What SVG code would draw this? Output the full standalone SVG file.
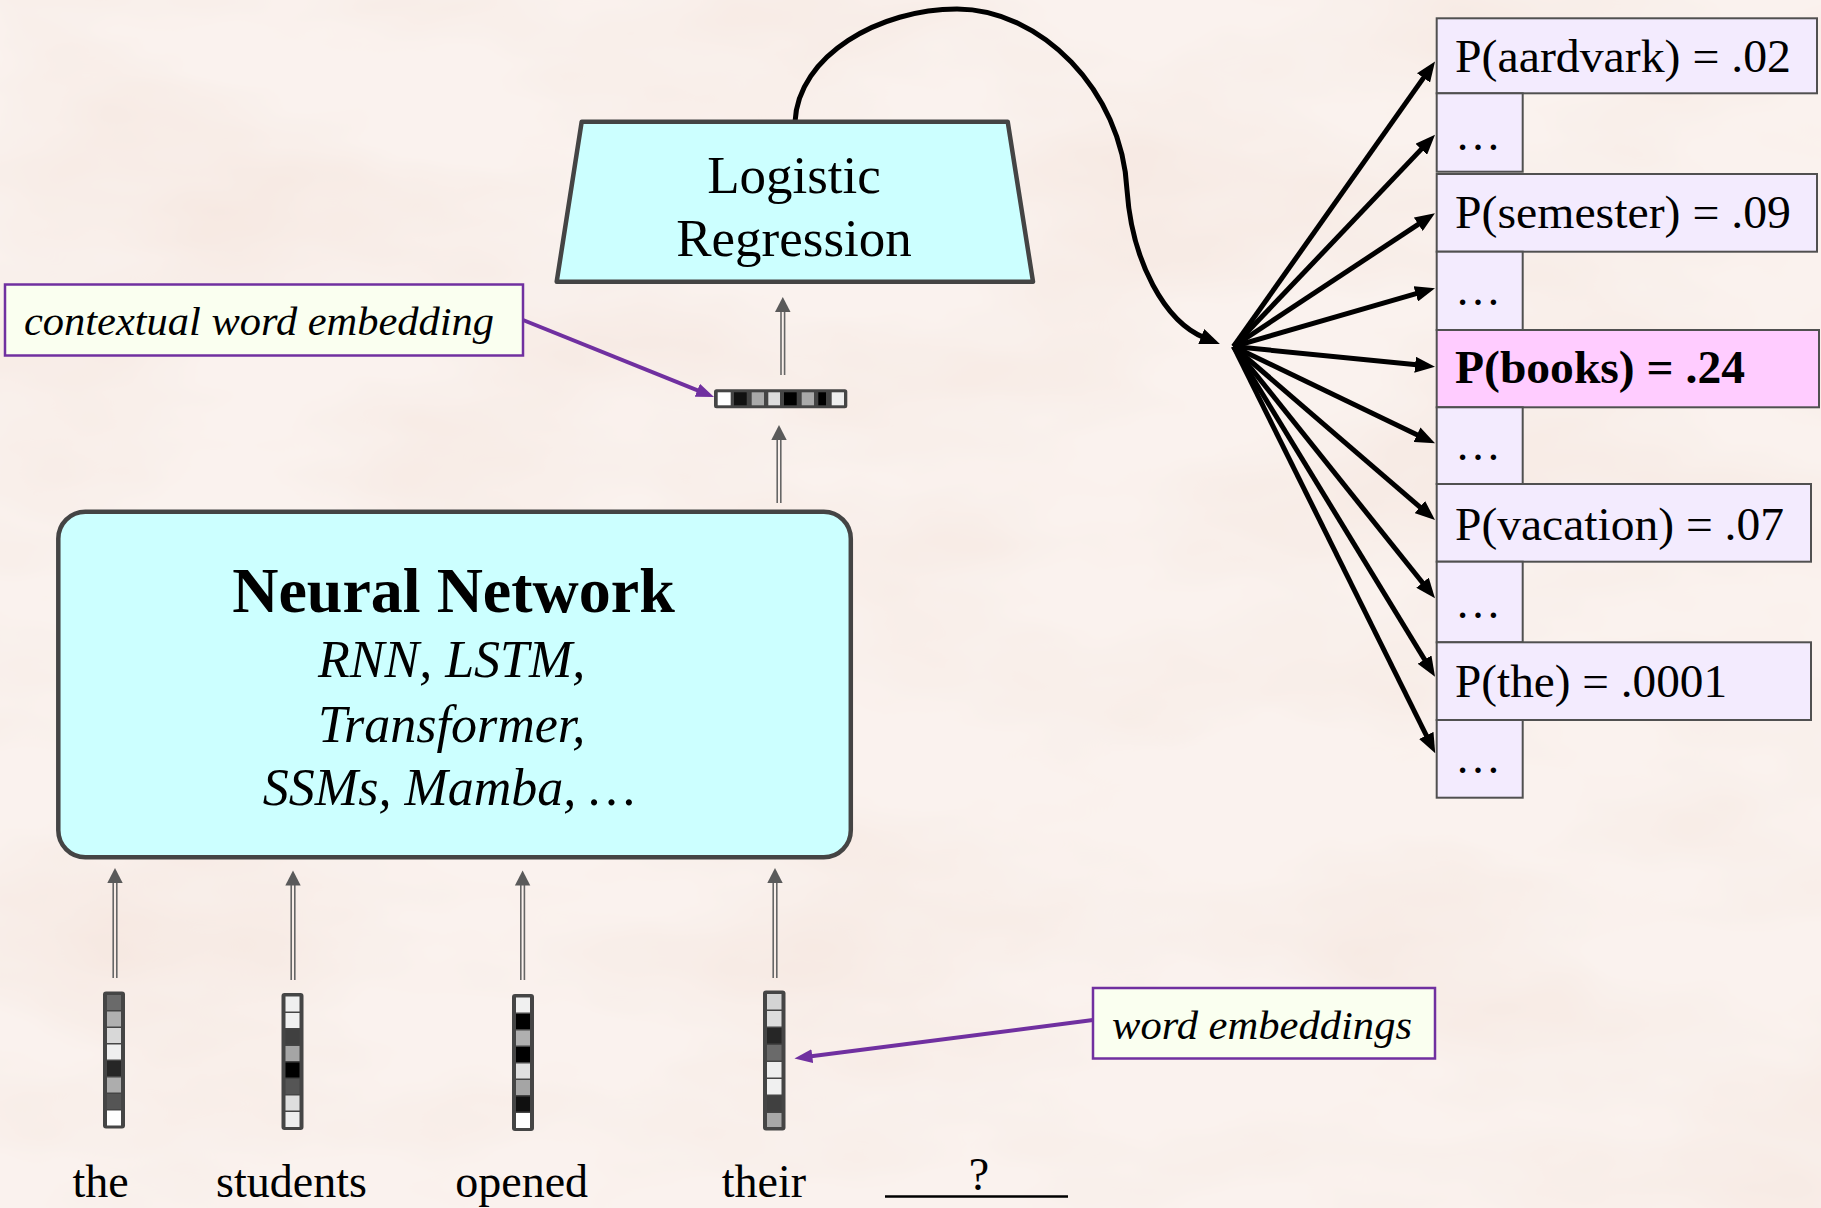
<svg xmlns="http://www.w3.org/2000/svg" width="1821" height="1208" viewBox="0 0 1821 1208">
<style>
  .serif { font-family: "Liberation Serif", "Times New Roman", serif; fill: #000; }
  .lr { font-size: 53px; text-anchor: middle; }
  .nnt { font-size: 64px; font-weight: bold; text-anchor: middle; }
  .nni { font-size: 52px; font-style: italic; text-anchor: middle; }
  .word { font-size: 46px; text-anchor: middle; }
  .lbl { font-size: 39px; font-style: italic; }
  .prob { font-size: 46px; }
  .pbox { fill: #F3EBFE; stroke: #505050; stroke-width: 2; }
  .pbold { fill: #FFCCFF; stroke: #505050; stroke-width: 2; }
  .call { fill: #FAFFF0; stroke: #7030A0; stroke-width: 2.5; }
  .shape { fill: #CCFFFF; stroke: #444; stroke-width: 4.5; stroke-linejoin: round; }
  .frame { fill: #454545; }
  .fan { stroke: #000; stroke-width: 5; fill: none; marker-end: url(#ah); }
  .purp { stroke: #7030A0; stroke-width: 4; fill: none; marker-end: url(#ahp); }
  .dl { stroke: #666; stroke-width: 1.6; }
  .dh { fill: #5a5a5a; }
</style>
<defs>
  <marker id="ah" viewBox="0 0 20 16" refX="4" refY="8" markerWidth="20" markerHeight="16" markerUnits="userSpaceOnUse" orient="auto">
    <path d="M0,0 L20,8 L0,16 z" fill="#000"/>
  </marker>
  <marker id="ahp" viewBox="0 0 18 14" refX="3" refY="7" markerWidth="18" markerHeight="14" markerUnits="userSpaceOnUse" orient="auto">
    <path d="M0,0 L18,7 L0,14 z" fill="#7030A0"/>
  </marker>
  <filter id="paper" x="0" y="0" width="1" height="1">
    <feTurbulence type="fractalNoise" baseFrequency="0.003 0.007" numOctaves="4" seed="3" result="n"/>
    <feColorMatrix in="n" type="matrix" values="0 0 0 0 0.91  0 0 0 0 0.78  0 0 0 0 0.72  1.3 0 0 0 -0.5"/>
  </filter>
</defs>

<rect x="0" y="0" width="1821" height="1208" fill="#FAF2EE"/>
<rect x="0" y="0" width="1821" height="1208" filter="url(#paper)"/>

<g id="connectors">
  <!-- curve from logistic regression to fan -->
  <path d="M795,122 C798,55 880,9 957,9 C1040,9 1122,90 1127,190 C1132,262 1165,322 1205,338" stroke="#000" stroke-width="5" fill="none" marker-end="url(#ah)"/>
  <!-- fan -->
  <line class="fan" x1="1233.5" y1="346.5" x2="1425.8" y2="74.6"/>
  <line class="fan" x1="1233.5" y1="346.5" x2="1424.0" y2="146.4"/>
  <line class="fan" x1="1233.5" y1="346.5" x2="1421.6" y2="222.1"/>
  <line class="fan" x1="1233.5" y1="346.5" x2="1419.6" y2="292.7"/>
  <line class="fan" x1="1233.5" y1="346.5" x2="1419.1" y2="365.1"/>
  <line class="fan" x1="1233.5" y1="346.5" x2="1420.6" y2="436.4"/>
  <line class="fan" x1="1233.5" y1="346.5" x2="1422.9" y2="509.6"/>
  <line class="fan" x1="1233.5" y1="346.5" x2="1425.0" y2="585.8"/>
  <line class="fan" x1="1233.5" y1="346.5" x2="1426.7" y2="663.0"/>
  <line class="fan" x1="1233.5" y1="346.5" x2="1428.1" y2="739.0"/>
  <!-- purple callout arrows -->
  <line class="purp" x1="523" y1="320" x2="700.1" y2="391.4"/>
  <line class="purp" x1="1093" y1="1020" x2="809.3" y2="1056.5"/>
  <!-- gray double arrows -->
  <g>
    <line class="dl" x1="781" y1="310" x2="781" y2="375"/>
    <line class="dl" x1="784.6" y1="310" x2="784.6" y2="375"/>
    <path class="dh" d="M782.8,297 L790.5,312 L775,312 z"/>
  </g>
  <g>
    <line class="dl" x1="777.2" y1="438" x2="777.2" y2="503"/>
    <line class="dl" x1="780.8" y1="438" x2="780.8" y2="503"/>
    <path class="dh" d="M779,425 L786.7,440 L771.3,440 z"/>
  </g>
  <g>
    <line class="dl" x1="113.2" y1="881" x2="113.2" y2="978"/>
    <line class="dl" x1="116.8" y1="881" x2="116.8" y2="978"/>
    <path class="dh" d="M115,868 L122.7,883 L107.3,883 z"/>
  </g>
  <g>
    <line class="dl" x1="291.2" y1="883" x2="291.2" y2="980"/>
    <line class="dl" x1="294.8" y1="883" x2="294.8" y2="980"/>
    <path class="dh" d="M293,870.5 L300.7,885.5 L285.3,885.5 z"/>
  </g>
  <g>
    <line class="dl" x1="520.8" y1="883" x2="520.8" y2="980"/>
    <line class="dl" x1="524.4" y1="883" x2="524.4" y2="980"/>
    <path class="dh" d="M522.6,870.5 L530.3,885.5 L514.9,885.5 z"/>
  </g>
  <g>
    <line class="dl" x1="773.2" y1="881" x2="773.2" y2="978"/>
    <line class="dl" x1="776.8" y1="881" x2="776.8" y2="978"/>
    <path class="dh" d="M775,868 L782.7,883 L767.3,883 z"/>
  </g>
</g>

<g id="logistic-regression">
  <polygon class="shape" points="581.7,121.7 1007.7,121.7 1033,281.7 556.7,281.7" stroke-width="5"/>
  <text class="serif lr" x="794" y="192.7">Logistic</text>
  <text class="serif lr" x="794" y="256">Regression</text>
</g>

<g id="neural-network">
  <rect class="shape" x="58.3" y="511.7" width="792.5" height="345.6" rx="27" ry="27"/>
  <text class="serif nnt" x="453.5" y="611.7">Neural Network</text>
  <text class="serif nni" x="451.7" y="676.7">RNN, LSTM,</text>
  <text class="serif nni" x="451.7" y="741.7">Transformer,</text>
  <text class="serif nni" x="449.2" y="805">SSMs, Mamba, …</text>
</g>

<g id="context-vector">
  <rect class="frame" x="714" y="389.3" width="133.3" height="19" rx="2.5"/>
  <rect x="717.7" y="392.3" width="13" height="13" fill="#ffffff"/>
  <rect x="734" y="392.3" width="12.7" height="13" fill="#111111"/>
  <rect x="751.7" y="392.3" width="12.3" height="13" fill="#aaaaaa"/>
  <rect x="768.3" y="392.3" width="11.7" height="13" fill="#dddddd"/>
  <rect x="784" y="392.3" width="12.7" height="13" fill="#000000"/>
  <rect x="801.7" y="392.3" width="12.3" height="13" fill="#aaaaaa"/>
  <rect x="818.3" y="392.3" width="7.7" height="13" fill="#000000"/>
  <rect x="831.7" y="392.3" width="12.3" height="13" fill="#eeeeee"/>
</g>

<g id="label-contextual">
  <rect class="call" x="5" y="284.5" width="518" height="71"/>
  <text class="serif lbl" x="24" y="335" textLength="470" lengthAdjust="spacingAndGlyphs">contextual word embedding</text>
</g>

<g id="label-word-embeddings">
  <rect class="call" x="1093" y="988" width="342" height="70.5"/>
  <text class="serif lbl" x="1112" y="1039" textLength="300" lengthAdjust="spacingAndGlyphs">word embeddings</text>
</g>

<g id="vec-the">
  <rect class="frame" x="103" y="991.5" width="22" height="137" rx="3"/>
  <rect x="107" y="995" width="14" height="15" fill="#6a6a6a"/>
  <rect x="107" y="1011.5" width="14" height="15" fill="#b0b0b0"/>
  <rect x="107" y="1028" width="14" height="15" fill="#d8d8d8"/>
  <rect x="107" y="1044.5" width="14" height="15" fill="#efefef"/>
  <rect x="107" y="1061" width="14" height="15" fill="#262626"/>
  <rect x="107" y="1077.5" width="14" height="15" fill="#adadad"/>
  <rect x="107" y="1094" width="14" height="15" fill="#555555"/>
  <rect x="107" y="1110.5" width="14" height="15" fill="#ffffff"/>
</g>
<g id="vec-students">
  <rect class="frame" x="281.5" y="993" width="22" height="137" rx="3"/>
  <rect x="285.5" y="996.5" width="14" height="15" fill="#efefef"/>
  <rect x="285.5" y="1013" width="14" height="15" fill="#f0f0f0"/>
  <rect x="285.5" y="1029.5" width="14" height="15" fill="#404040"/>
  <rect x="285.5" y="1046" width="14" height="15" fill="#a5a5a5"/>
  <rect x="285.5" y="1062.5" width="14" height="15" fill="#000000"/>
  <rect x="285.5" y="1079" width="14" height="15" fill="#555555"/>
  <rect x="285.5" y="1095.5" width="14" height="15" fill="#dedede"/>
  <rect x="285.5" y="1112" width="14" height="15" fill="#eeeeee"/>
</g>
<g id="vec-opened">
  <rect class="frame" x="512" y="994" width="22" height="137" rx="3"/>
  <rect x="516" y="997.5" width="14" height="15" fill="#f0f0f0"/>
  <rect x="516" y="1014" width="14" height="15" fill="#000000"/>
  <rect x="516" y="1030.5" width="14" height="15" fill="#b0b0b0"/>
  <rect x="516" y="1047" width="14" height="15" fill="#000000"/>
  <rect x="516" y="1063.5" width="14" height="15" fill="#e0e0e0"/>
  <rect x="516" y="1080" width="14" height="15" fill="#a5a5a5"/>
  <rect x="516" y="1096.5" width="14" height="15" fill="#101010"/>
  <rect x="516" y="1113" width="14" height="15" fill="#ffffff"/>
</g>
<g id="vec-their">
  <rect class="frame" x="763" y="990.5" width="22.5" height="140" rx="3"/>
  <rect x="767" y="994" width="14.5" height="15.5" fill="#d4d4d4"/>
  <rect x="767" y="1011" width="14.5" height="15.5" fill="#dddddd"/>
  <rect x="767" y="1028" width="14.5" height="15.5" fill="#262626"/>
  <rect x="767" y="1045" width="14.5" height="15.5" fill="#6a6a6a"/>
  <rect x="767" y="1062" width="14.5" height="15.5" fill="#eeeeee"/>
  <rect x="767" y="1079" width="14.5" height="15.5" fill="#f0f0f0"/>
  <rect x="767" y="1096" width="14.5" height="15.5" fill="#404040"/>
  <rect x="767" y="1113" width="14.5" height="14" fill="#a8a8a8"/>
</g>

<g id="words">
  <text class="serif word" x="100.5" y="1196.7">the</text>
  <text class="serif word" x="291.5" y="1196.7">students</text>
  <text class="serif word" x="521.7" y="1196.7">opened</text>
  <text class="serif word" x="764" y="1196.7">their</text>
  <text class="serif word" x="979" y="1190">?</text>
  <line x1="885" y1="1196.5" x2="1068" y2="1196.5" stroke="#000" stroke-width="2.5"/>
</g>

<g id="probabilities">
  <g id="p-aardvark">
    <rect class="pbox" x="1436.7" y="18.3" width="380.3" height="75"/>
    <text class="serif prob" x="1455" y="71.7" textLength="336" lengthAdjust="spacingAndGlyphs">P(aardvark) = .02</text>
  </g>
  <g id="p-dots1">
    <rect class="pbox" x="1436.7" y="93.3" width="86" height="78.4"/>
    <text class="serif prob" x="1455" y="150">…</text>
  </g>
  <g id="p-semester">
    <rect class="pbox" x="1436.7" y="174" width="380.3" height="77.7"/>
    <text class="serif prob" x="1455" y="228.3" textLength="336" lengthAdjust="spacingAndGlyphs">P(semester) = .09</text>
  </g>
  <g id="p-dots2">
    <rect class="pbox" x="1436.7" y="251.7" width="86" height="78.3"/>
    <text class="serif prob" x="1455" y="305">…</text>
  </g>
  <g id="p-books">
    <rect class="pbold" x="1436.7" y="330" width="382.3" height="77.3"/>
    <text class="serif prob" x="1455" y="383.3" font-weight="bold" textLength="290" lengthAdjust="spacingAndGlyphs">P(books) = .24</text>
  </g>
  <g id="p-dots3">
    <rect class="pbox" x="1436.7" y="407.3" width="86" height="76.7"/>
    <text class="serif prob" x="1455" y="460">…</text>
  </g>
  <g id="p-vacation">
    <rect class="pbox" x="1436.7" y="484" width="374.3" height="77.7"/>
    <text class="serif prob" x="1455" y="540" textLength="329" lengthAdjust="spacingAndGlyphs">P(vacation) = .07</text>
  </g>
  <g id="p-dots4">
    <rect class="pbox" x="1436.7" y="561.7" width="86" height="80.6"/>
    <text class="serif prob" x="1455" y="618.3">…</text>
  </g>
  <g id="p-the">
    <rect class="pbox" x="1436.7" y="642.3" width="374.3" height="77.7"/>
    <text class="serif prob" x="1455" y="696.7" textLength="272" lengthAdjust="spacingAndGlyphs">P(the) = .0001</text>
  </g>
  <g id="p-dots5">
    <rect class="pbox" x="1436.7" y="720" width="86" height="77.7"/>
    <text class="serif prob" x="1455" y="773.3">…</text>
  </g>
</g>
</svg>
